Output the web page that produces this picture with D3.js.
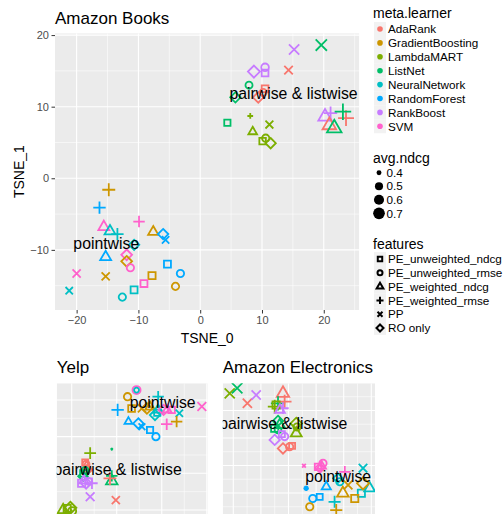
<!DOCTYPE html>
<html>
<head>
<meta charset="utf-8">
<script src="https://cdn.jsdelivr.net/npm/d3@7"></script>
<style>
  body { margin: 0; background: #fff; }
  svg { display: block; }
  text { font-family: "Liberation Sans", Arial, Helvetica, sans-serif; }
</style>
</head>
<body>
<svg id="chart" width="503" height="514"></svg>
<script>
// ---- legend categories ----
const learners = ["AdaRank", "GradientBoosting", "LambdaMART", "ListNet",
                  "NeuralNetwork", "RandomForest", "RankBoost", "SVM"];
const learnerColors = ["#F8766D", "#CD9600", "#7CAE00", "#00BE67",
                       "#00BFC4", "#00A9FF", "#C77CFF", "#FF61CC"];
const features = ["PE_unweighted_ndcg", "PE_unweighted_rmse", "PE_weighted_ndcg",
                  "PE_weighted_rmse", "PP", "RO only"];
const ndcgBreaks = [0.4, 0.5, 0.6, 0.7];
const xTicks = [-20, -10, 0, 10, 20];
const yTicks = [-10, 0, 10, 20];

// ---- points: [meta.learner, features, TSNE_0, TSNE_1, avg.ndcg] ----
const amazonBooks = [
  ["RankBoost", "PP", 15.2, 18.0, 0.61],
  ["ListNet", "PP", 19.6, 18.6, 0.67],
  ["AdaRank", "PP", 14.3, 15.1, 0.52],
  ["RankBoost", "RO only", 8.7, 14.9, 0.52],
  ["RankBoost", "PE_unweighted_rmse", 10.5, 15.5, 0.48],
  ["RankBoost", "PE_unweighted_ndcg", 10.5, 14.7, 0.48],
  ["ListNet", "PE_unweighted_rmse", 7.9, 13.0, 0.46],
  ["AdaRank", "PE_unweighted_rmse", 10.2, 12.0, 0.46],
  ["AdaRank", "PE_unweighted_ndcg", 10.5, 12.5, 0.48],
  ["AdaRank", "RO only", 9.4, 11.3, 0.48],
  ["ListNet", "RO only", 5.7, 11.3, 0.47],
  ["ListNet", "PE_unweighted_ndcg", 4.4, 7.75, 0.46],
  ["LambdaMART", "PE_weighted_rmse", 8.1, 8.7, 0.385],
  ["LambdaMART", "PP", 11.2, 7.5, 0.49],
  ["LambdaMART", "PE_weighted_ndcg", 8.5, 6.5, 0.44],
  ["LambdaMART", "PE_unweighted_ndcg", 10.1, 5.2, 0.47],
  ["LambdaMART", "PE_unweighted_rmse", 10.6, 5.6, 0.47],
  ["LambdaMART", "RO only", 11.4, 4.9, 0.47],
  ["RankBoost", "PE_weighted_ndcg", 20.2, 8.6, 0.59],
  ["RankBoost", "PE_weighted_rmse", 21.1, 9.1, 0.56],
  ["AdaRank", "PE_weighted_ndcg", 20.9, 7.4, 0.60],
  ["ListNet", "PE_weighted_ndcg", 21.7, 7.0, 0.64],
  ["AdaRank", "PE_weighted_rmse", 23.6, 8.4, 0.67],
  ["ListNet", "PE_weighted_rmse", 23.1, 9.3, 0.70],
  ["GradientBoosting", "PE_weighted_rmse", -14.8, -1.6, 0.55],
  ["RandomForest", "PE_weighted_rmse", -16.3, -4.1, 0.53],
  ["SVM", "PE_weighted_rmse", -9.9, -6.05, 0.50],
  ["SVM", "PE_weighted_ndcg", -15.6, -6.8, 0.50],
  ["NeuralNetwork", "PE_weighted_ndcg", -14.6, -7.4, 0.50],
  ["NeuralNetwork", "PE_weighted_rmse", -13.4, -7.8, 0.53],
  ["GradientBoosting", "PE_weighted_ndcg", -7.6, -7.5, 0.48],
  ["RandomForest", "RO only", -6.0, -7.8, 0.47],
  ["RandomForest", "PP", -5.6, -8.6, 0.47],
  ["NeuralNetwork", "RO only", -10.7, -9.3, 0.47],
  ["RandomForest", "PE_weighted_ndcg", -15.3, -11.0, 0.50],
  ["SVM", "RO only", -11.9, -10.7, 0.48],
  ["GradientBoosting", "RO only", -11.9, -11.6, 0.48],
  ["SVM", "PE_unweighted_rmse", -11.3, -12.5, 0.47],
  ["SVM", "PP", -20.0, -13.3, 0.50],
  ["GradientBoosting", "PP", -15.3, -13.7, 0.50],
  ["RandomForest", "PE_unweighted_ndcg", -5.3, -12.0, 0.49],
  ["RandomForest", "PE_unweighted_rmse", -3.2, -13.3, 0.47],
  ["GradientBoosting", "PE_unweighted_ndcg", -7.8, -13.6, 0.50],
  ["SVM", "PE_unweighted_ndcg", -9.1, -14.7, 0.49],
  ["GradientBoosting", "PE_unweighted_rmse", -4.0, -15.1, 0.47],
  ["NeuralNetwork", "PE_unweighted_ndcg", -10.7, -15.6, 0.49],
  ["NeuralNetwork", "PE_unweighted_rmse", -12.6, -16.6, 0.47],
  ["NeuralNetwork", "PP", -21.2, -15.7, 0.47]
];

const yelp = [
  ["GradientBoosting", "PE_unweighted_rmse", -7.6, 20.9, 0.47],
  ["SVM", "PE_unweighted_rmse", -5.6, 22.7, 0.50],
  ["NeuralNetwork", "PE_unweighted_rmse", -5.6, 22.7, 0.40],
  ["NeuralNetwork", "PE_weighted_rmse", -0.8, 20.9, 0.50],
  ["RandomForest", "PE_weighted_rmse", -9.8, 17.3, 0.53],
  ["GradientBoosting", "PE_unweighted_ndcg", -6.7, 17.7, 0.48],
  ["GradientBoosting", "PP", -4.4, 17.7, 0.50],
  ["GradientBoosting", "RO only", -3.3, 17.7, 0.48],
  ["GradientBoosting", "PE_weighted_ndcg", -2.6, 18.1, 0.46],
  ["NeuralNetwork", "RO only", -1.5, 15.9, 0.47],
  ["NeuralNetwork", "PE_weighted_ndcg", -0.8, 17.3, 0.46],
  ["NeuralNetwork", "PE_unweighted_ndcg", -1.0, 16.5, 0.46],
  ["SVM", "RO only", 0.4, 17.3, 0.47],
  ["SVM", "PE_weighted_ndcg", 1.2, 17.3, 0.44],
  ["SVM", "PE_unweighted_ndcg", 2.2, 17.3, 0.47],
  ["NeuralNetwork", "PP", 3.9, 16.4, 0.47],
  ["SVM", "PP", 8.9, 18.2, 0.53],
  ["RandomForest", "PE_weighted_ndcg", -7.4, 14.1, 0.42],
  ["RandomForest", "RO only", -5.2, 13.6, 0.47],
  ["RandomForest", "PP", -4.4, 12.7, 0.45],
  ["RandomForest", "PE_unweighted_ndcg", -2.6, 11.8, 0.46],
  ["RandomForest", "PE_unweighted_rmse", -1.3, 10.0, 0.47],
  ["SVM", "PE_weighted_rmse", 1.1, 13.4, 0.50],
  ["GradientBoosting", "PE_weighted_rmse", 3.3, 14.1, 0.50],
  ["LambdaMART", "PE_weighted_rmse", -15.9, 5.5, 0.51],
  ["ListNet", "PP", -11.1, 6.6, 0.36],
  ["AdaRank", "PE_unweighted_ndcg", -17.0, 3.0, 0.45],
  ["AdaRank", "PE_unweighted_rmse", -16.8, 2.5, 0.45],
  ["AdaRank", "PE_weighted_ndcg", -16.7, 1.8, 0.47],
  ["AdaRank", "RO only", -16.5, 1.0, 0.45],
  ["ListNet", "PE_unweighted_rmse", -17.0, 0.8, 0.45],
  ["ListNet", "PE_unweighted_ndcg", -17.4, 0.0, 0.47],
  ["ListNet", "RO only", -17.5, -0.8, 0.45],
  ["ListNet", "PE_weighted_ndcg", -11.1, -2.1, 0.52],
  ["ListNet", "PE_weighted_rmse", -11.1, -0.7, 0.50],
  ["AdaRank", "PE_weighted_rmse", -11.5, -1.4, 0.55],
  ["RankBoost", "PE_weighted_ndcg", -17.3, -2.0, 0.45],
  ["RankBoost", "PE_unweighted_rmse", -16.2, -2.2, 0.45],
  ["RankBoost", "PE_unweighted_ndcg", -17.8, -2.7, 0.50],
  ["RankBoost", "RO only", -16.8, -2.7, 0.48],
  ["RankBoost", "PE_weighted_rmse", -15.5, -2.7, 0.50],
  ["RankBoost", "PP", -15.9, -6.4, 0.53],
  ["AdaRank", "PP", -10.2, -7.3, 0.50],
  ["LambdaMART", "PE_weighted_ndcg", -21.9, -10.0, 0.50],
  ["LambdaMART", "PE_unweighted_ndcg", -21.0, -9.6, 0.50],
  ["LambdaMART", "RO only", -20.3, -9.4, 0.52],
  ["LambdaMART", "PE_unweighted_rmse", -19.9, -10.3, 0.50],
  ["LambdaMART", "PP", -20.8, -11.0, 0.50]
];

const amazonElectronics = [
  ["LambdaMART", "PP", -41.3, 36.2, 0.60],
  ["ListNet", "PP", -38.6, 38.1, 0.62],
  ["AdaRank", "PP", -34.9, 32.6, 0.55],
  ["RankBoost", "PP", -31.7, 35.6, 0.55],
  ["AdaRank", "PE_weighted_ndcg", -22.0, 36.2, 0.55],
  ["ListNet", "PE_weighted_rmse", -23.8, 32.6, 0.60],
  ["LambdaMART", "PE_weighted_rmse", -25.0, 31.4, 0.58],
  ["AdaRank", "PE_weighted_rmse", -21.4, 33.2, 0.58],
  ["RankBoost", "PE_weighted_rmse", -22.0, 30.8, 0.50],
  ["LambdaMART", "PE_unweighted_ndcg", -24.5, 32.0, 0.50],
  ["RankBoost", "PE_weighted_ndcg", -23.1, 30.2, 0.47],
  ["ListNet", "PE_weighted_ndcg", -23.2, 24.7, 0.50],
  ["ListNet", "PE_unweighted_ndcg", -25.0, 23.5, 0.50],
  ["ListNet", "RO only", -23.8, 26.2, 0.47],
  ["ListNet", "PE_unweighted_rmse", -23.8, 22.9, 0.45],
  ["LambdaMART", "RO only", -17.2, 25.3, 0.50],
  ["LambdaMART", "PE_unweighted_rmse", -16.9, 24.0, 0.47],
  ["LambdaMART", "PE_weighted_ndcg", -17.2, 21.7, 0.50],
  ["RankBoost", "PE_unweighted_rmse", -21.4, 20.5, 0.47],
  ["RankBoost", "PE_unweighted_ndcg", -22.4, 21.4, 0.45],
  ["RankBoost", "RO only", -25.0, 19.3, 0.47],
  ["AdaRank", "PE_unweighted_rmse", -19.6, 16.8, 0.47],
  ["AdaRank", "RO only", -22.0, 16.2, 0.47],
  ["AdaRank", "PE_unweighted_ndcg", -18.7, 17.1, 0.45],
  ["SVM", "PP", -14.4, 9.9, 0.38],
  ["SVM", "PE_unweighted_ndcg", -9.3, 9.5, 0.47],
  ["SVM", "PE_unweighted_rmse", -7.5, 10.8, 0.47],
  ["SVM", "RO only", -8.6, 9.1, 0.45],
  ["SVM", "PE_weighted_ndcg", -8.0, 9.8, 0.44],
  ["SVM", "PE_weighted_rmse", 0.4, 7.7, 0.50],
  ["NeuralNetwork", "PP", 7.0, 9.0, 0.52],
  ["NeuralNetwork", "PE_unweighted_rmse", -1.4, 4.1, 0.47],
  ["NeuralNetwork", "RO only", -2.1, 5.4, 0.45],
  ["NeuralNetwork", "PE_weighted_ndcg", 9.4, 1.7, 0.50],
  ["NeuralNetwork", "PE_unweighted_ndcg", 6.4, -0.1, 0.50],
  ["NeuralNetwork", "PE_weighted_rmse", -3.3, -3.2, 0.52],
  ["RandomForest", "PE_weighted_ndcg", -6.3, 2.3, 0.45],
  ["RandomForest", "PP", -13.6, 1.7, 0.38],
  ["RandomForest", "PE_weighted_rmse", -13.6, 1.7, 0.38],
  ["RandomForest", "RO only", -13.6, 1.7, 0.36],
  ["RandomForest", "PE_unweighted_rmse", -11.2, -2.0, 0.47],
  ["RandomForest", "PE_unweighted_ndcg", -8.7, -1.4, 0.45],
  ["GradientBoosting", "PE_unweighted_rmse", -12.3, -5.0, 0.47],
  ["GradientBoosting", "PE_weighted_rmse", -2.7, -6.2, 0.52],
  ["GradientBoosting", "PE_weighted_ndcg", -0.3, -0.1, 0.52],
  ["GradientBoosting", "PP", 1.6, 2.9, 0.52],
  ["GradientBoosting", "PE_unweighted_ndcg", 4.0, -2.0, 0.50],
  ["GradientBoosting", "RO only", 7.0, 3.5, 0.52]
];

// ---- cluster annotations: [text, TSNE_0, TSNE_1] ----
const booksLabels = [["pointwise", -15.2, -9.16], ["pairwise & listwise", 15.1, 11.85]];
const yelpLabels = [["pointwise", 0.2, 19.3], ["pairwise & listwise", -9.8, 1.0]];
const electronicsLabels = [["pairwise & listwise", -21.9, 25.3], ["pointwise", -2.0, 5.9]];

// ---- scales shared by every panel ----
const colorScale = d3.scaleOrdinal().domain(learners).range(learnerColors);
const shapeScale = d3.scaleOrdinal().domain(features)
  .range(["square", "circle", "triangle", "plus", "cross", "diamond"]);
// marker radius: area-style size scale over the avg.ndcg range
const ndcgRange = [0.37, 0.72];
const sizeScale = d3.scaleLinear().domain([0, 1]).range([1, 6]);
function markerRadius(v) {
  const t = Math.max(0, (v - ndcgRange[0]) / (ndcgRange[1] - ndcgRange[0]));
  return sizeScale(Math.sqrt(t));
}

// path for an open R-style plotting symbol of radius r centred at 0,0
function symbolPath(shape, r) {
  const p = d3.path();
  if (shape === "square") {
    const h = 0.886 * r; p.rect(-h, -h, 2 * h, 2 * h);
  } else if (shape === "circle") {
    p.moveTo(r, 0); p.arc(0, 0, r, 0, 2 * Math.PI);
  } else if (shape === "triangle") {
    p.moveTo(0, -1.555 * r); p.lineTo(1.347 * r, 0.778 * r); p.lineTo(-1.347 * r, 0.778 * r); p.closePath();
  } else if (shape === "plus") {
    const a = 1.414 * r; p.moveTo(-a, 0); p.lineTo(a, 0); p.moveTo(0, -a); p.lineTo(0, a);
  } else if (shape === "cross") {
    p.moveTo(-r, -r); p.lineTo(r, r); p.moveTo(-r, r); p.lineTo(r, -r);
  } else if (shape === "diamond") {
    const a = 1.414 * r; p.moveTo(0, -a); p.lineTo(a, 0); p.lineTo(0, a); p.lineTo(-a, 0); p.closePath();
  }
  return p.toString();
}

const svg = d3.select("#chart");
svg.append("rect").attr("width", 503).attr("height", 514).attr("fill", "#fff");

let clipId = 0;
function drawPanel(cfg) {
  const x = d3.scaleLinear().domain(cfg.xDomain).range([cfg.left, cfg.right]);
  const y = d3.scaleLinear().domain(cfg.yDomain).range([cfg.bottom, cfg.top]);
  const id = "clip" + (clipId++);
  svg.append("clipPath").attr("id", id).append("rect")
    .attr("x", cfg.left).attr("y", cfg.top)
    .attr("width", cfg.right - cfg.left).attr("height", cfg.bottom - cfg.top);

  const g = svg.append("g").attr("clip-path", `url(#${id})`);
  g.append("rect").attr("x", cfg.left).attr("y", cfg.top)
    .attr("width", cfg.right - cfg.left).attr("height", cfg.bottom - cfg.top)
    .attr("fill", "#EBEBEB");

  // grid: majors every 10, minors halfway
  const gridVals = (dom) => {
    const lo = Math.min(...dom), hi = Math.max(...dom);
    const out = [];
    for (let v = Math.ceil(lo / 5) * 5; v <= hi; v += 5) out.push(v);
    return out;
  };
  gridVals(cfg.xDomain).forEach(v => {
    g.append("line").attr("x1", x(v)).attr("x2", x(v)).attr("y1", cfg.top).attr("y2", cfg.bottom)
      .attr("stroke", "#fff").attr("stroke-width", v % 10 === 0 ? 1.1 : 0.55);
  });
  gridVals(cfg.yDomain).forEach(v => {
    g.append("line").attr("y1", y(v)).attr("y2", y(v)).attr("x1", cfg.left).attr("x2", cfg.right)
      .attr("stroke", "#fff").attr("stroke-width", v % 10 === 0 ? 1.1 : 0.55);
  });

  g.selectAll("path.pt").data(cfg.data).enter().append("path")
    .attr("class", "pt")
    .attr("transform", d => `translate(${x(d[2])},${y(d[3])})`)
    .attr("d", d => symbolPath(shapeScale(d[1]), markerRadius(d[4])))
    .attr("fill", "none")
    .attr("stroke", d => colorScale(d[0]))
    .attr("stroke-width", 1.8)
    .attr("stroke-linejoin", "miter");

  g.selectAll("text.lab").data(cfg.labels).enter().append("text")
    .attr("class", "lab")
    .attr("x", d => x(d[1])).attr("y", d => y(d[2])).attr("dy", "0.35em")
    .attr("text-anchor", "middle").attr("font-size", 15.8).attr("fill", "#000")
    .text(d => d[0]);

  svg.append("text").attr("x", cfg.left).attr("y", cfg.titleY)
    .attr("font-size", 17).attr("fill", "#000").text(cfg.title);

  if (cfg.axes) {
    const ax = svg.append("g").attr("transform", `translate(0,${cfg.bottom})`)
      .call(d3.axisBottom(x).tickValues(xTicks).tickSize(3.5).tickPadding(2.5));
    const ay = svg.append("g").attr("transform", `translate(${cfg.left},0)`)
      .call(d3.axisLeft(y).tickValues(yTicks).tickSize(3.5).tickPadding(2.5));
    [ax, ay].forEach(a => {
      a.select(".domain").remove();
      a.selectAll(".tick line").attr("stroke", "#333333").attr("stroke-width", 1);
      a.selectAll(".tick text").attr("fill", "#4D4D4D").attr("font-size", 11)
        .attr("font-family", '"Liberation Sans", Arial, sans-serif');
    });
    svg.append("text").attr("x", (cfg.left + cfg.right) / 2).attr("y", 343)
      .attr("text-anchor", "middle").attr("font-size", 14).text("TSNE_0");
    svg.append("text").attr("transform", `translate(24,${(cfg.top + cfg.bottom) / 2}) rotate(-90)`)
      .attr("text-anchor", "middle").attr("font-size", 14).text("TSNE_1");
  }
}

drawPanel({
  title: "Amazon Books", titleY: 24, axes: true,
  left: 55, right: 359.3, top: 33.3, bottom: 310,
  xDomain: [-23.5, 25.75], yDomain: [-18.4, 20.25],
  data: amazonBooks, labels: booksLabels
});
drawPanel({
  title: "Yelp", titleY: 373, axes: false,
  left: 56.7, right: 207.7, top: 383.3, bottom: 565,
  xDomain: [-23.33, 10.2], yDomain: [-25, 24.55],
  data: yelp, labels: yelpLabels
});
drawPanel({
  title: "Amazon Electronics", titleY: 373, axes: false,
  left: 222.7, right: 375, top: 383.3, bottom: 548,
  xDomain: [-43.84, 11.34], yDomain: [-20, 39.87],
  data: amazonElectronics, labels: electronicsLabels
});

// ---- legends ----
const leg = svg.append("g");
const keyX = 374, keyW = 12, textX = 388;

leg.append("text").attr("x", 373).attr("y", 17.5).attr("font-size", 14).text("meta.learner");
learners.forEach((l, i) => {
  const cy = 29 + i * 13.9;
  leg.append("rect").attr("x", keyX).attr("y", cy - 6.95).attr("width", keyW).attr("height", 13.9).attr("fill", "#F2F2F2");
  leg.append("circle").attr("cx", keyX + keyW / 2).attr("cy", cy).attr("r", 2.8).attr("fill", colorScale(l));
  leg.append("text").attr("x", textX).attr("y", cy).attr("dy", "0.36em").attr("font-size", 11.7).text(l);
});

leg.append("text").attr("x", 373).attr("y", 162.5).attr("font-size", 14).text("avg.ndcg");
ndcgBreaks.forEach((v, i) => {
  const cy = 172.7 + i * 13.55;
  leg.append("circle").attr("cx", 379).attr("cy", cy).attr("r", markerRadius(v)).attr("fill", "#000");
  leg.append("text").attr("x", 386.5).attr("y", cy).attr("dy", "0.36em").attr("font-size", 11.7).text(v.toFixed(1));
});

leg.append("text").attr("x", 373).attr("y", 249).attr("font-size", 14).text("features");
features.forEach((f, i) => {
  const cy = 259 + i * 13.8;
  leg.append("rect").attr("x", keyX).attr("y", cy - 6.9).attr("width", keyW).attr("height", 13.8).attr("fill", "#F2F2F2");
  leg.append("path").attr("transform", `translate(${keyX + keyW / 2},${cy})`)
    .attr("d", symbolPath(shapeScale(f), 2.5)).attr("fill", "none")
    .attr("stroke", "#000").attr("stroke-width", 2);
  leg.append("text").attr("x", textX).attr("y", cy).attr("dy", "0.36em").attr("font-size", 11.7).text(f);
});
</script>
</body>
</html>
